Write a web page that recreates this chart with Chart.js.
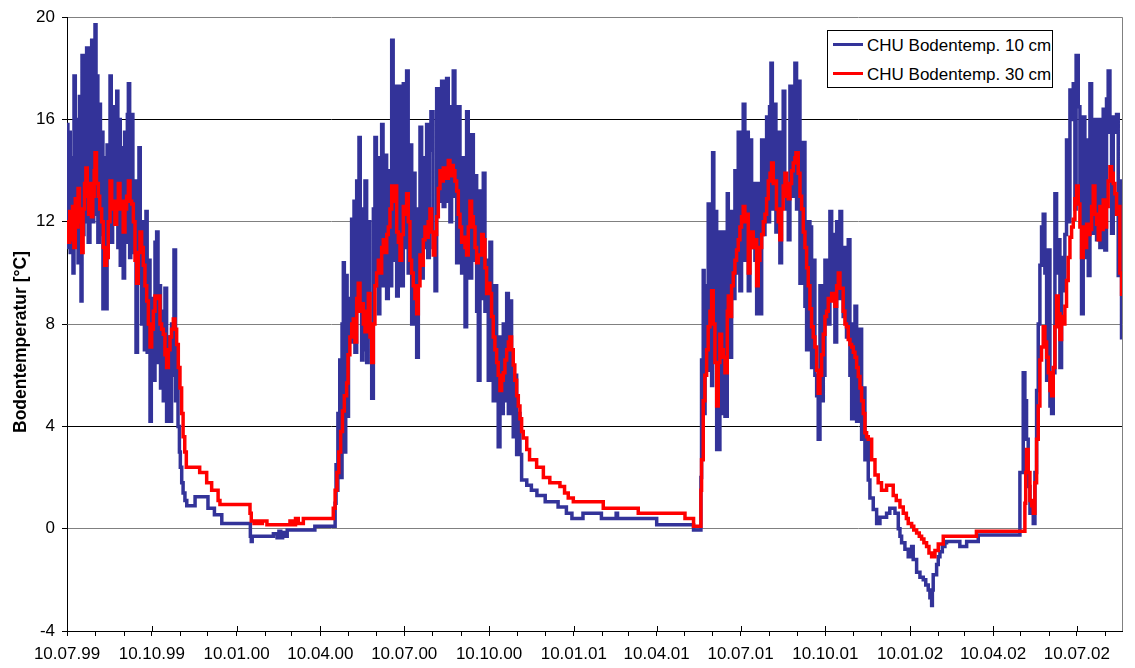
<!DOCTYPE html>
<html>
<head>
<meta charset="utf-8">
<title>CHU Bodentemperatur</title>
<script src="https://cdn.jsdelivr.net/npm/chart.js@4.4.1/dist/chart.umd.min.js"></script>
<style>
  html, body { margin: 0; padding: 0; background: #fff; }
  #wrap { position: relative; width: 1135px; height: 668px; }
  #legend {
    position: absolute; left: 827px; top: 30px; width: 226px; height: 58px;
    box-sizing: border-box; border: 1px solid #000; background: #fff;
    font: 17px "Liberation Sans", Arial, sans-serif; color: #000;
  }
  #legend .sw { position: absolute; left: 5px; width: 30px; height: 3px; }
  #legend .lt { position: absolute; left: 39px; line-height: 20px; white-space: nowrap; }
</style>
</head>
<body>
<div id="wrap">
  <canvas id="chart" width="1135" height="668"></canvas>
  <div id="legend">
    <span class="sw" style="top:12px;background:#333399"></span>
    <span class="lt" style="top:5px">CHU Bodentemp. 10 cm</span>
    <span class="sw" style="top:41px;background:#ff0000"></span>
    <span class="lt" style="top:34px">CHU Bodentemp. 30 cm</span>
  </div>
</div>
<script>
// x = days since 10.07.1999, y = temperature in °C
const tickDays = [0, 92, 184, 275, 366, 458, 550, 640, 731, 823, 915, 1005, 1096];
const tickLabels = ['10.07.99', '10.10.99', '10.01.00', '10.04.00', '10.07.00', '10.10.00',
  '10.01.01', '10.04.01', '10.07.01', '10.10.01', '10.01.02', '10.04.02', '10.07.02'];
const monthDays = [0, 31, 62, 92, 123, 153, 184, 215, 244, 275, 305, 336, 366, 397, 428, 458,
  489, 519, 550, 581, 609, 640, 670, 701, 731, 762, 793, 823, 854, 884, 915, 946, 974, 1005,
  1035, 1066, 1096, 1127];
const yTicks = [-4, 0, 4, 8, 12, 16, 20];
const yTitle = 'Bodentemperatur [°C]';

// CHU Bodentemp. 10 cm
const soil10 = [
  // summer 1999
  [0,15.8],[1,11.0],[2.5,15.5],[3.5,10.8],[5,14.5],[6.5,10.0],[7.6,17.7],[9,11.5],[10.5,16.0],[12,10.4],
  [13.5,16.9],[15.2,8.9],[16.3,18.5],[17.5,11.5],[18.4,17.9],[20,12.0],[21.3,18.8],[23,11.2],[24.9,16.6],[26,12.3],
  [26.8,19.1],[28,12.0],[29,16.8],[30.4,19.7],[31.5,12.3],[32.2,17.7],[33.5,11.2],[35,16.6],[36.3,11.5],[37.6,15.5],
  [39,8.6],[40.5,14.5],[42,8.6],[43.5,15.0],[45,11.8],[46.7,17.7],[48,11.2],[49.5,16.5],[51,12.0],[52.5,15.8],
  [54,17.1],[55.2,11.0],[56.5,16.0],[57.8,10.3],[59.3,14.9],[61,9.8],[62.5,15.5],[64,11.2],[65.5,16.2],[66.6,17.4],
  [68,10.6],[69.2,15.2],[70.2,16.2],[71.5,10.8],[73,13.6],[74.9,6.9],[76.5,12.6],[78.1,14.9],[79.5,9.7],[81,8.0],
  [82.5,12.0],[84,7.0],[85.7,12.4],[87,6.9],[88.3,10.5],[90.1,4.2],[91.5,9.0],[93.7,5.8],[95.5,11.2],[97.3,11.6],
  [98.8,6.5],[100.2,9.5],[101.5,5.5],[103,8.5],[104.5,5.0],[106.3,9.4],[108.1,4.2],[109.8,7.5],[111.8,4.2],[113.5,8.0],
  [115,6.0],[116.1,10.9],[117.8,5.0],[119,6.5],[120.5,4.0],[122,3.0],
  // winter 1999/2000
  [123,2.4],[124.5,1.8],[126,1.4],[128,1.1],[130,0.9],[139,1.25],[153,0.8],[160,0.55],[168,0.2],[199,-0.3],
  [200,-0.5],[201,-0.3],[224,-0.2],[228,-0.35],[230,-0.1],[232,-0.35],[234,-0.15],[236,-0.3],[239,-0.05],[269,0.1],
  [291,1.0],[292,2.5],[293,1.5],[294,4.5],[295,2.0],
  // summer 2000
  [296,6.6],[297,2.0],[298.5,8.0],[299.9,10.4],[301,3.0],[302.5,9.9],[304,4.4],[305.5,9.0],[307,7.3],[308.9,12.1],
  [310,7.5],[311.5,12.8],[312.5,6.9],[314.4,13.6],[315.5,8.5],[316.9,15.3],[318.3,9.0],[319.8,6.6],[321.2,12.5],[322.5,7.0],
  [323.4,13.6],[325.2,6.5],[326.8,12.0],[328.5,7.5],[330.7,5.1],[332.5,12.5],[334.2,15.3],[335.8,9.5],[337.9,8.4],[339.5,14.5],
  [341.5,15.8],[343,9.5],[345.1,14.6],[346.9,9.0],[348.7,14.0],[350.5,9.5],[352.4,19.1],[354,10.5],[355.9,17.3],[357.8,9.1],
  [359.5,17.3],[361.3,10.5],[363.2,9.5],[365,17.4],[366.8,11.0],[368.6,17.9],[370.3,10.0],[372.2,15.0],[374.1,8.0],[376,13.9],
  [377.7,9.5],[379.5,6.7],[381.3,12.5],[383.1,15.7],[384.9,9.8],[386.6,14.5],[388.5,11.0],[390.3,15.8],[391.5,10.6],[393.2,14.8],
  [395,16.3],[397.2,11.0],[399.4,9.3],[401.2,17.2],[402.9,12.8],[404.8,16.0],[406.6,17.5],[408.3,12.6],[410.1,16.8],[412,17.6],
  [413.8,12.8],[415.6,12.0],[417.4,16.5],[419.2,17.9],[421,13.0],[422.9,10.4],[424.7,16.5],[426.5,11.5],[428.3,10.0],[430.1,14.5],
  [432,7.9],[433.7,16.3],[435.5,11.0],[437.3,9.8],[439.2,15.4],[441,10.5],[442.8,13.8],[444.6,8.5],[446.4,5.8],[448.2,13.2],
  [450,9.0],[451.8,13.9],[453.6,8.5],[455.4,10.5],[457.2,5.8],[459,11.2],[460.8,7.0],[462.6,5.0],[464.4,9.5],[466.3,5.0],
  [468,3.2],[469.9,7.5],[471.7,4.5],[473.5,8.0],[475.3,5.0],[477.2,9.2],[479,4.5],[480.7,8.9],[482.5,5.0],[484.3,3.6],
  [486,6.0],[488,2.9],[489.8,4.5],[491.6,2.9],[493.4,1.9],
  // winter 2000/2001
  [499,1.7],[504,1.5],[510,1.3],[519,1.05],[533,0.85],[542,0.6],[548,0.4],[560,0.6],[580,0.4],[596,0.6],
  [597.5,0.4],[640,0.15],[680,-0.05],
  // summer 2001
  [688,2.0],[688.7,6.6],[689.5,3.2],[690.5,10.1],[691.5,4.5],[692.5,9.5],[694.2,6.2],[695.9,12.7],[697,8.0],[697.8,12.7],
  [699.6,5.6],[700.7,14.7],[702,7.5],[703.2,12.4],[705.1,3.1],[706,8.5],[706.8,3.1],[708.6,11.6],[710.5,4.5],[712.2,11.6],
  [714.1,4.4],[716.6,13.1],[717.7,7.5],[719.5,6.7],[721.3,12.4],[723.1,9.0],[724.9,14.0],[726.7,10.0],[728.5,15.5],[730.3,9.3],
  [732.1,14.5],[733.9,16.6],[735.7,10.5],[737.6,15.5],[739.4,9.3],[741.2,15.2],[743,11.0],[744.8,13.5],[746.6,10.5],[748.5,8.4],
  [750.2,13.5],[752,8.4],[753.9,15.2],[755.7,11.5],[757.5,12.5],[759.3,16.1],[761.1,12.0],[762.5,16.5],[764,18.2],[765.5,12.5],
  [767,15.0],[768.3,16.6],[769.4,11.6],[771,15.5],[772.5,12.0],[773.7,10.4],[775.5,15.5],[777.3,17.1],[779,13.0],[781,12.5],
  [782.8,11.3],[784.6,17.3],[786.4,13.0],[788.2,16.5],[790,18.2],[791.8,12.5],[793.6,17.5],[795.5,9.6],[797.3,13.5],[799.1,15.1],
  [800.9,8.7],[802.7,7.0],[804.5,12.0],[806.3,11.8],[808.1,6.3],[809.9,10.5],[811.7,6.0],[813.6,5.2],[815.3,3.5],[817.2,9.5],
  [819,5.0],[820.8,6.0],[822.6,10.5],[824.4,8.5],[826.2,8.0],[828,12.4],[829.9,9.0],[831.6,11.5],[833.4,7.3],[835.3,12.0],
  [837.1,9.0],[838.9,12.4],[840.7,9.5],[842.4,8.3],[844.3,11.0],[846,7.5],[847.9,11.3],[849.7,6.0],[851.6,4.3],[853.4,8.0],
  [855.2,8.7],[857,4.2],[858.8,7.0],[860.6,7.8],[862.4,3.5],[864.2,5.5],[866,2.7],[867.8,3.6],[869.6,1.9],[871.4,1.2],
  // winter 2001/2002
  [875,0.75],[878.7,0.2],[882.3,0.45],[889.5,0.6],[893,0.8],[898.6,0.6],[902.2,0.0],[904,-0.3],[905.8,-0.55],[909.4,-0.8],
  [913,-1.1],[916.7,-0.7],[918.4,-1.2],[922.1,-1.7],[925.7,-1.9],[929.3,-2.0],[932,-2.2],[934.7,-2.4],[936.5,-2.7],[938.4,-3.0],
  [939.2,-2.4],[940.1,-1.8],[943.8,-1.4],[945.6,-1.1],[947.4,-0.9],[950,-0.7],[952.8,-0.55],[954.6,-0.5],[969,-0.7],[976.4,-0.5],
  [989,-0.25],
  // summer 2002
  [1034.2,2.2],[1037.8,6.1],[1039.6,5.0],[1041.4,3.5],[1043.2,1.65],[1045.1,0.6],[1046.9,1.0],[1048.7,0.2],[1050.5,2.2],[1052.3,5.4],
  [1054.1,8.0],[1055.9,10.3],[1057.7,11.8],[1059.5,12.3],[1061.3,10.0],[1063.2,5.8],[1065,10.9],[1066.8,4.8],[1068.6,4.5],[1070.4,6.1],
  [1072.2,13.1],[1074,10.0],[1075.8,11.3],[1077.6,6.3],[1079.4,10.6],[1081.2,9.3],[1083,11.5],[1084.8,15.2],[1086.6,12.0],[1088.5,17.15],
  [1090.3,16.0],[1092.1,17.4],[1093.9,12.5],[1095.2,18.5],[1097.5,16.5],[1099.3,13.2],[1101.1,8.4],[1102.9,16.1],[1104.7,10.6],[1106.6,15.2],
  [1108.4,9.9],[1110.2,17.4],[1112,16.0],[1113.8,11.55],[1115.6,16.0],[1117.4,11.3],[1119.2,16.0],[1121,11.0],[1122.8,14.0],[1124.6,16.4],
  [1126.4,10.9],[1128.2,16.8],[1130,17.9],[1131.9,15.5],[1133.7,11.55],[1135.5,16.1],[1137.3,15.5],[1139.1,16.2],[1140.9,9.9],[1142.7,13.6],
  [1144.5,7.4]
];

// CHU Bodentemp. 30 cm
const soil30 = [
  // summer 1999
  [0,12.0],[1.5,11.2],[3,12.4],[4.5,11.3],[6,12.6],[7.5,11.0],[9,12.9],[10.5,11.8],[12,13.3],[13.5,12.0],
  [15,12.5],[16,10.8],[17.5,12.5],[19,13.5],[20.5,14.1],[22,13.0],[23.5,12.3],[25,13.5],[26.5,12.2],[28,13.0],
  [29.5,14.0],[30.4,14.7],[32,13.5],[34,13.0],[35.5,12.5],[37.6,12.0],[39.4,11.0],[41,10.3],[43,10.6],[44.8,12.0],
  [46.7,13.6],[48.5,12.8],[50.3,12.5],[52,11.9],[53.9,12.8],[55.7,13.5],[57.5,12.5],[59.3,12.8],[61,11.6],[62.9,12.5],
  [64.7,13.0],[66.6,13.6],[68.4,12.8],[70.2,12.7],[72,12.0],[73.8,10.5],[75.6,9.6],[77.4,10.8],[79.2,11.6],[81,11.0],
  [82.8,10.3],[84.6,9.5],[86.5,8.9],[88.3,8.0],[90.1,7.1],[91.9,7.8],[93.7,8.5],[95.5,9.1],[97.3,9.0],[99.1,9.1],
  [100.9,8.0],[102.7,7.8],[104.5,7.6],[106.3,6.8],[108.1,6.3],[110,7.0],[111.8,7.5],[113.5,7.8],[115.4,8.2],[117.2,7.8],
  [119,7.2],[120.8,6.3],[122.6,5.5],[124.4,4.5],[126,3.6],[127.8,3.0],
  // winter 1999/2000
  [129.5,2.4],[144,2.2],[151.6,1.8],[157,1.5],[164,1.1],[166,0.95],[198.6,0.6],[200,0.3],[203,0.2],[206,0.3],
  [209,0.2],[212,0.3],[217,0.15],[242,0.3],[245,0.15],[248,0.4],[251,0.2],[256.5,0.4],
  // summer 2000
  [289,0.8],[291,1.5],[293,2.2],[295,3.0],[297,3.8],[299,4.6],[301,5.2],[303.5,5.7],[305,6.8],[307,7.5],
  [309,8.0],[310.7,8.2],[312.5,7.3],[314.4,9.0],[316.1,9.6],[318,8.5],[319.8,8.8],[321.6,8.0],[323.4,7.7],[325.2,8.5],
  [327,9.2],[328.8,7.5],[330.7,6.5],[332.5,8.0],[334.2,9.5],[336,10.0],[337.9,10.5],[339.7,10.0],[341.5,11.0],[343.3,11.3],
  [345.1,10.8],[347,11.5],[348.7,11.8],[350.5,12.5],[352.4,13.4],[354.2,12.8],[355.9,13.4],[357.8,11.6],[359.6,11.2],[361.4,10.5],
  [363.2,11.5],[365,12.6],[366.8,12.3],[368.6,13.1],[370.4,12.0],[372.2,10.5],[374,10.0],[375.8,9.5],[377.6,9.0],[379.5,8.4],
  [381.3,9.5],[383.1,10.7],[384.9,10.3],[386.7,11.3],[388.5,11.8],[390.3,11.4],[392,12.0],[393.9,12.5],[395.7,11.6],[397.5,10.7],
  [399.3,11.5],[401.2,12.2],[403,13.3],[404.8,14.0],[406.6,13.6],[408.4,14.1],[410.2,14.1],[412,13.7],[413.8,14.4],[415.6,13.8],
  [417.4,14.2],[419.2,14.0],[421,13.6],[422.9,13.2],[424.7,12.3],[426.5,11.8],[428.3,11.2],[430,11.4],[431.9,11.0],[433.7,10.7],
  [435.5,11.8],[437.3,12.8],[439.1,12.2],[441,11.8],[442.8,11.0],[444.6,10.4],[446.4,10.7],[448.2,10.7],[450,11.5],[451.8,11.3],
  [453.6,10.2],[455.4,9.2],[457.2,9.6],[459,9.2],[460.8,8.3],[462.6,7.5],[464.4,7.0],[466.3,6.5],[468,6.0],[469.9,5.4],
  [471.7,5.8],[473.5,6.1],[475.3,6.6],[477.2,7.0],[479,7.3],[480.7,7.5],[482.5,7.0],[484.3,6.4],[486,5.8],[488,5.2],
  [489.8,4.8],[491.6,4.3],[493.4,3.8],[495.2,3.55],
  // winter 2000/2001
  [499,3.1],[502,2.7],[509.7,2.4],[517,2.0],[524,1.8],[535,1.65],[540,1.4],[544,1.2],[549.5,1.05],[582,0.8],
  [620,0.6],[670.7,0.4],[680,0.1],
  // summer 2001
  [688,1.5],[688.7,2.7],[690.5,5.0],[692.3,6.0],[694.2,7.0],[695.9,7.9],[697.8,8.5],[699.6,9.3],[701.4,8.0],[703.2,6.5],
  [705.1,4.8],[706.8,6.5],[708.6,7.6],[710.5,7.0],[712.2,6.7],[714.1,6.1],[716.6,8.5],[717.7,9.1],[719.5,8.3],[721.3,9.5],
  [723.1,10.0],[724.9,10.5],[726.7,10.9],[728.5,11.3],[730.3,11.8],[732.1,12.2],[733.9,12.6],[735.7,12.0],[737.6,12.3],[739.4,10.0],
  [741.2,11.5],[743,11.6],[744.8,11.0],[746.6,11.3],[748.5,9.5],[750.2,10.5],[752,11.0],[753.9,11.5],[755.7,12.0],[757.5,12.3],
  [759.3,12.9],[761.1,13.6],[763,13.9],[764.7,14.3],[766.5,13.5],[768.3,13.6],[770,12.5],[771.9,12.0],[773.7,11.3],[775.5,12.5],
  [777.3,13.4],[779.2,13.9],[781,13.0],[782.8,12.9],[784.6,13.5],[786.4,14.0],[788.2,14.3],[790,14.5],[791.1,14.7],[793.6,13.9],
  [795.5,13.0],[797.3,12.5],[799.1,11.6],[800.9,11.0],[802.7,10.2],[804.5,9.5],[806.3,8.6],[808.1,7.9],[809.9,7.5],[811.7,7.1],
  [813.6,6.2],[815.3,5.3],[817.2,6.0],[819,6.8],[820.8,7.6],[822.6,8.3],[824.4,8.5],[826.2,9.0],[828,8.9],[829.9,9.2],
  [831.6,9.0],[833.4,8.7],[835.3,9.5],[837.1,10.0],[838.9,9.4],[840.7,9.4],[842.4,8.5],[844.3,8.0],[846,7.9],[847.9,7.4],
  [849.7,7.2],[851.6,7.1],[853.4,6.9],[855.2,6.7],[857,6.3],[858.8,5.95],[860.6,5.5],[862.4,5.0],[864.2,4.5],[866,3.75],
  // winter 2001/2002
  [867.8,3.6],[869.6,3.5],[873.3,2.7],[876.9,2.1],[880.4,1.8],[884,1.5],[889.5,1.7],[896.7,1.3],[900,1.1],[904,0.85],
  [907.6,0.6],[911,0.4],[913,0.2],[916.7,0.1],[919,-0.05],[922.1,-0.17],[925,-0.3],[927.5,-0.4],[930,-0.55],[932.9,-0.7],
  [935.5,-0.95],[938.4,-1.1],[942,-0.85],[945.6,-0.6],[951,-0.3],[987,-0.1],
  // summer 2002
  [1039.6,1.0],[1040.5,2.2],[1041.4,3.1],[1043.2,2.2],[1045.1,1.1],[1046.9,0.9],[1048.7,0.6],[1050.5,1.8],[1052.3,3.5],[1054.1,4.8],
  [1055.9,6.6],[1057.7,7.1],[1059.5,7.9],[1061.3,7.3],[1063.2,6.7],[1065,6.1],[1066.8,5.4],[1068.6,5.2],[1070.4,6.3],[1072.2,7.9],
  [1074,9.1],[1075.8,8.4],[1077.6,7.4],[1079.4,8.3],[1081.2,8.0],[1083,8.7],[1084.8,9.7],[1086.6,10.6],[1088.5,11.4],[1090.3,11.8],
  [1092.1,12.1],[1093.9,12.9],[1095.7,13.4],[1097.5,12.7],[1099.3,11.8],[1101.1,10.6],[1102.9,11.8],[1104.7,11.0],[1106.6,11.9],[1108.4,11.5],
  [1110.2,11.7],[1112,12.6],[1113.8,13.4],[1115.6,12.3],[1117.4,11.9],[1119.2,11.3],[1121,12.6],[1122.8,11.7],[1124.6,12.85],[1126.4,11.8],
  [1128.2,12.6],[1130,13.6],[1131.9,14.15],[1133.7,13.9],[1135.5,13.5],[1137.3,13.1],[1139.1,12.3],[1140.9,12.6],[1142.7,10.0],[1144.5,9.1]
];

Chart.defaults.font.family = '"Liberation Sans", Arial, sans-serif';
Chart.defaults.color = '#000';

// right frame line, major x ticks crossing the axis, y axis title
const frame = {
  id: 'frame',
  beforeDatasetsDraw(chart) {
    const { ctx, chartArea: a } = chart;
    ctx.save();
    ctx.strokeStyle = '#808080';
    ctx.lineWidth = 1;
    ctx.beginPath();
    ctx.moveTo(a.right + 0.5, a.top);
    ctx.lineTo(a.right + 0.5, a.bottom);
    ctx.stroke();
    ctx.restore();
  },
  afterDraw(chart) {
    const { ctx, chartArea: a, scales: { x } } = chart;
    ctx.save();
    ctx.strokeStyle = '#000';
    ctx.lineWidth = 1;
    ctx.beginPath();
    tickDays.forEach(d => {
      const px = Math.round(x.getPixelForValue(d)) + 0.5;
      ctx.moveTo(px, a.bottom - 5);
      ctx.lineTo(px, a.bottom);
    });
    ctx.stroke();

    // title sits a bit below the middle of the plot, like the original
    ctx.translate(21, 342);
    ctx.rotate(-Math.PI / 2);
    ctx.fillStyle = '#000';
    ctx.font = 'bold 17.5px "Liberation Sans", Arial, sans-serif';
    ctx.textAlign = 'center';
    ctx.textBaseline = 'middle';
    ctx.fillText(yTitle, 0, 0);
    ctx.restore();
  }
};

const ctx = document.getElementById('chart').getContext('2d');
new Chart(ctx, {
  type: 'line',
  data: {
    datasets: [
      {
        label: 'CHU Bodentemp. 10 cm',
        data: soil10.map(p => ({ x: p[0], y: p[1] })),
        borderColor: '#333399',
        backgroundColor: '#333399',
        borderWidth: 3.5,
        stepped: true,
        pointRadius: 0,
        order: 1
      },
      {
        label: 'CHU Bodentemp. 30 cm',
        data: soil30.map(p => ({ x: p[0], y: p[1] })),
        borderColor: '#ff0000',
        backgroundColor: '#ff0000',
        borderWidth: 3.5,
        stepped: true,
        pointRadius: 0,
        order: 0
      }
    ]
  },
  options: {
    responsive: false,
    animation: false,
    devicePixelRatio: 1,
    layout: { padding: { top: 17, right: 13, left: 0, bottom: 0 } },
    plugins: {
      legend: { display: false },
      tooltip: { enabled: false }
    },
    scales: {
      x: {
        type: 'linear',
        min: 0,
        max: 1145,
        afterBuildTicks: s => { s.ticks = monthDays.map(v => ({ value: v })); },
        afterFit: s => { s.height = 37; },
        grid: { drawOnChartArea: false, drawTicks: true, tickLength: 5, color: '#000', lineWidth: 1 },
        border: { color: '#000', width: 1 },
        ticks: {
          autoSkip: false,
          maxRotation: 0,
          padding: 8,
          font: { size: 17 },
          callback: v => {
            const i = tickDays.indexOf(v);
            return i >= 0 ? tickLabels[i] : '';
          }
        }
      },
      y: {
        min: -4,
        max: 20,
        afterBuildTicks: s => { s.ticks = yTicks.map(v => ({ value: v })); },
        afterFit: s => { s.width = 67; },
        grid: {
          tickLength: 5,
          tickColor: '#000',
          lineWidth: 1,
          color: c => (c.tick && (c.tick.value === 16 || c.tick.value === 4)) ? '#000' : '#808080'
        },
        border: { color: '#000', width: 1 },
        ticks: { padding: 7, font: { size: 17 } },
        title: { display: false }
      }
    }
  },
  plugins: [frame]
});
</script>
</body>
</html>
